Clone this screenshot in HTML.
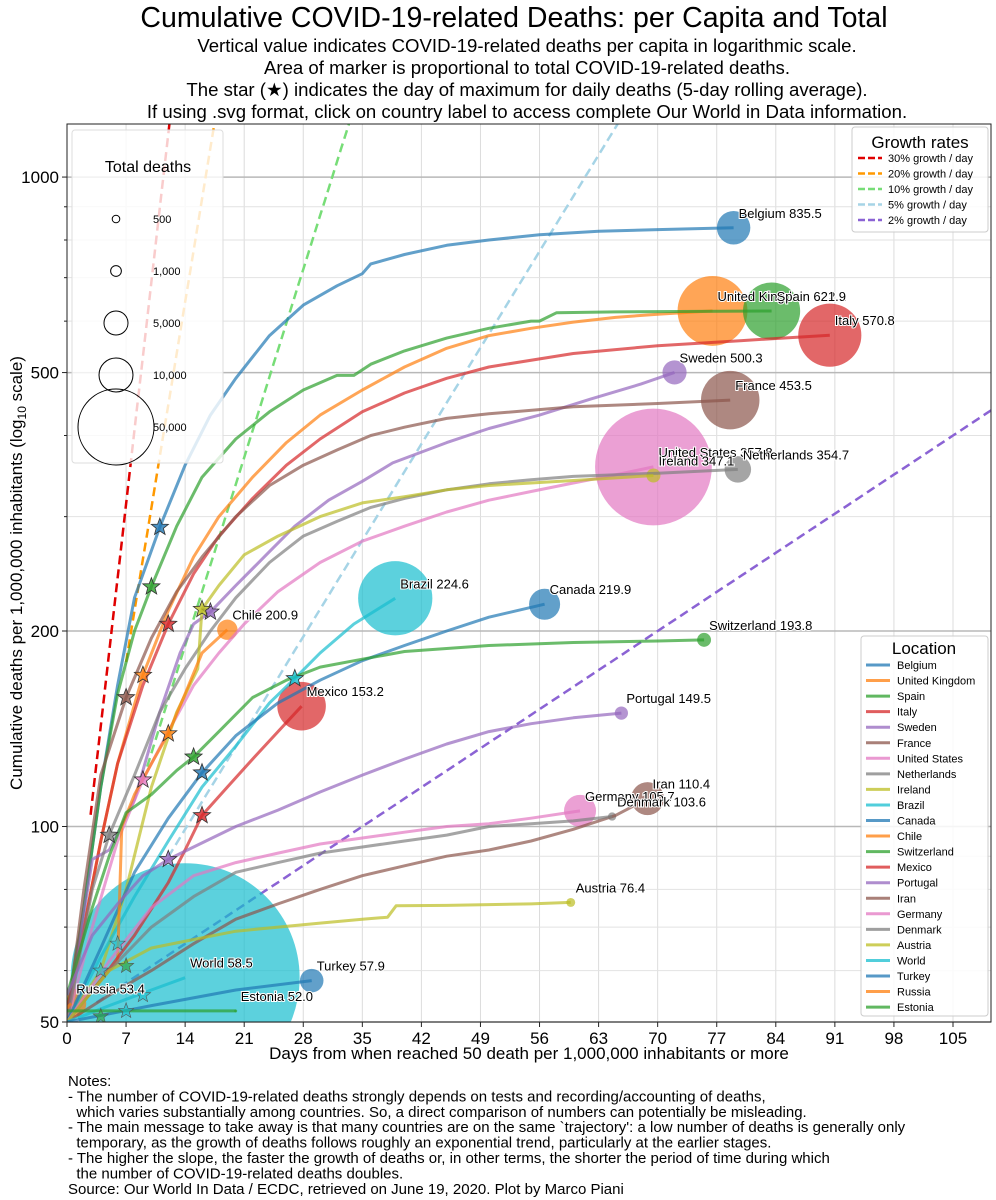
<!DOCTYPE html>
<html><head><meta charset="utf-8"><style>
body{margin:0;background:#fff;}
svg{display:block;font-family:"Liberation Sans","DejaVu Sans",sans-serif;}
</style></head><body>
<svg id="chart" width="996" height="1200" viewBox="0 0 996 1200" xmlns="http://www.w3.org/2000/svg">
<defs><clipPath id="clip"><rect x="67" y="124" width="924" height="898"/></clipPath></defs>
<text x="514" y="27" font-size="28.5" text-anchor="middle">Cumulative COVID-19-related Deaths: per Capita and Total</text>
<g font-size="18.6" text-anchor="middle">
<text x="527" y="52">Vertical value indicates COVID-19-related deaths per capita in logarithmic scale.</text>
<text x="527" y="74">Area of marker is proportional to total COVID-19-related deaths.</text>
<text x="527" y="96">The star (★) indicates the day of maximum for daily deaths (5-day rolling average).</text>
<text x="527" y="118">If using .svg format, click on country label to access complete Our World in Data information.</text>
</g>
<g id="grid"></g>
<g id="growth" clip-path="url(#clip)"></g>
<g id="series" clip-path="url(#clip)"></g>
<g id="axes"></g>
<g id="legends"></g>
<text x="529" y="1059" font-size="17" text-anchor="middle">Days from when reached 50 death per 1,000,000 inhabitants or more</text>
<text transform="translate(22,573) rotate(-90)" font-size="17" text-anchor="middle">Cumulative deaths per 1,000,000 inhabitants (log<tspan font-size="12" dy="4">10</tspan><tspan dy="-4"> scale)</tspan></text>
<g font-size="15">
<text x="68" y="1086">Notes:</text>
<text x="68" y="1101.4">- The number of COVID-19-related deaths strongly depends on tests and recording/accounting of deaths,</text>
<text x="68" y="1116.8">&#160;&#160;which varies substantially among countries. So, a direct comparison of numbers can potentially be misleading.</text>
<text x="68" y="1132.2">- The main message to take away is that many countries are on the same `trajectory': a low number of deaths is generally only</text>
<text x="68" y="1147.6">&#160;&#160;temporary, as the growth of deaths follows roughly an exponential trend, particularly at the earlier stages.</text>
<text x="68" y="1163">- The higher the slope, the faster the growth of deaths or, in other terms, the shorter the period of time during which</text>
<text x="68" y="1178.4">&#160;&#160;the number of COVID-19-related deaths doubles.</text>
<text x="68" y="1193.8">Source: Our World In Data / ECDC, retrieved on June 19, 2020. Plot by Marco Piani</text>
</g>
</svg>
<script>
const NS="http://www.w3.org/2000/svg";
const xTicks=[0,7,14,21,28,35,42,49,56,63,70,77,84,91,98,105];
const yMajor=[50,100,200,500,1000];
const yMinor=[60,70,80,90,300,400,600,700,800,900];
const growthRates=[0.30,0.20,0.10,0.05,0.02];
const growthLabels=["30% growth / day","20% growth / day","10% growth / day","5% growth / day","2% growth / day"];
const growthStart=[2.8,7,9.5,12,3.5];
const seriesNames=["Belgium","United Kingdom","Spain","Italy","Sweden","France","United States","Netherlands","Ireland","Brazil","Canada","Chile","Switzerland","Mexico","Portugal","Iran","Germany","Denmark","Austria","World","Turkey","Russia","Estonia"];
const seriesDays=[
[0,2,4,6,8,11,14,17,20,24,28,32,35,36,40,45,50,56,63,70,79],
[0,2,4,6,9,12,15,18,22,26,30,35,40,45,50,55,60,65,70,76.5],
[0,2,4,6,8,10,13,16,20,24,28,32,34,36,40,45,50,55,56,58,65,75,83.5],
[0,2,4,6,9,12,15,18,22,26,30,35,40,45,50,60,70,80,90.4],
[0,3,5,8,11,13.4,15,17,20,24,27,31,35,38.6,45,50,56,62,68,72],
[0,2,4,7,10,13,16,20,24,28,32,36,40,45,50,60,70,78.6],
[0,3,6,9,12,15,18,21,25,30,35,40,45,50,55,60,65,69.5],
[0,3,5,8,11,14,17,20,24,28,32,36,40,45,50,55,60,70,79.5],
[0,4,7,10,13,15.5,16,18,21,25,30,35,40,45,50,55,60,69.5],
[0,4,8,12,16,20,24,27,30,34,38.9],
[0,4,8,12,16,20,25,30,35,40,45,50,56.6],
[0,4,6,6.5,8,10,12,14,16,19],
[0,3,5,7,10,13,15,18,22,26,30,35,40,50,60,70,75.5],
[0,4,8,12,14,16,19,22,25,27.8],
[0,3,6,9,12,15,20,25,30,35,40,45,50,55,60,65.7],
[0,5,10,15,20,25,30,35,40,45,50,55,60,65,68.8],
[0,5,10,15,20,25,30,35,40,45,50,55,60.8],
[0,5,10,15,20,25,30,35,40,45,50,55,60,64.6],
[0,5,10,15,20,25,30,35,38,39,45,50,55,59.7],
[0,5,10,14],
[0,10,20,29],
[0,0.5],
[0,20]];
const seriesVals=[
[50,75,115,165,225,289,360,430,490,570,635,680,710,735,760,785,800,815,825,830,835.5],
[50,70,95,125,171,215,260,300,345,390,430,470,510,545,570,585,598,608,615,622.2],
[52,75,115,160,200,234,290,345,395,435,470,495,495,515,540,565,585,600,600,618,620,621,621.9],
[52,70,95,125,165,205,245,280,320,360,395,435,465,490,510,535,550,560,570.8],
[50,89,92,110,150,185,205,214,235,265,290,318,340,363,390,410,430,455,480,500.3],
[50,80,120,158,195,230,260,300,335,360,380,400,412,425,432,443,448,453.5],
[50,70,95,118,140,165,185,205,230,255,275,290,305,318,328,338,348,357.8],
[50,80,97,120,150,175,200,225,255,280,295,310,320,330,337,342,346,350,354.7],
[50,60,80,115,150,175,216,235,262,280,300,315,322,330,335,338,341,347.1],
[50,63,78,95,115,133,155,169,185,205,224.6],
[50,65,85,103,121,138,155,168,180,190,200,210,219.9],
[50,58,62,100,112,125,139,160,185,200.9],
[55,75,90,105,112,122,128,140,158,168,176,181,186,190,192,193,193.8],
[50,58,68,82,92,104,115,127,140,153.2],
[55,68,76,84,89,93,100,106,113,120,127,134,140,144,147,149.5],
[50,55,60,66,72,76,80,84,87,90,92,95,99,104,110.4],
[50,62,75,84,88,91,94,96,98,100,101,103,105.7],
[50,60,70,78,85,88,91,93,95,97,100,101,102,103.6],
[50,60,65,67,69,70,71,72,72.5,75.5,75.6,75.8,76,76.4],
[50,53,56,58.5],
[50,53,56,57.9],
[52.5,53.4],
[52,52.0]];
const totalDeaths=[9700,42300,28300,34500,5050,29600,118000,6100,1710,47700,8350,3600,1680,20400,1520,9400,8900,600,690,454000,4800,7800,69];
const starDays=[11,9,10,12,17,7,9,5,16,27,16,12,15,16,12,null,null,null,null,null,null,null,null];
const extraStarDays=[4,7,6,9,7,4];
const extraStarVals=[60,61,66,55,52,51];
const extraStarColors=["#17becf","#2ca02c","#17becf","#17becf","#17becf","#2ca02c"];
const legendSizes=[500,1000,5000,10000,50000];
const legendSizeLabels=["500","1,000","5,000","10,000","50,000"];
const palette=["#1f77b4","#ff7f0e","#2ca02c","#d62728","#9467bd","#8c564b","#e377c2","#7f7f7f","#bcbd22","#17becf"];
const growthColors=["#e00000","#ff9900","#77dd77","#a6d4e6","#8b63d4"];

const X0=67,X1=991,Y0=124,Y1=1022;
function xs(d){return X0+d*8.438;}
function ys(v){return Y1-195.5*Math.log2(v/50);}
function rs(n){return 38*Math.sqrt(n/50000);}
function el(tag,attrs,parent){const e=document.createElementNS(NS,tag);for(const k in attrs)e.setAttribute(k,attrs[k]);parent.appendChild(e);return e;}
function interp(days,vals,d){for(let i=1;i<days.length;i++){if(d<=days[i]){const t=(d-days[i-1])/(days[i]-days[i-1]);return vals[i-1]*Math.pow(vals[i]/vals[i-1],t);}}return vals[vals.length-1];}
function starPath(cx,cy,r){let p="";for(let i=0;i<10;i++){const a=-Math.PI/2+i*Math.PI/5;const rr=i%2?r*0.42:r;p+=(i?"L":"M")+(cx+rr*Math.cos(a)).toFixed(1)+","+(cy+rr*Math.sin(a)).toFixed(1);}return p+"Z";}

const grid=document.getElementById("grid");
xTicks.forEach(t=>{const l=el("line",{x1:xs(t),x2:xs(t),y1:Y0,y2:Y1,stroke:"#dcdcdc","stroke-width":1},grid);

});
yMinor.forEach(t=>{const l=el("line",{x1:X0,x2:X1,y1:ys(t),y2:ys(t),stroke:"#e2e2e2","stroke-width":1},grid);

});
yMajor.forEach(t=>{const l=el("line",{x1:X0,x2:X1,y1:ys(t),y2:ys(t),stroke:"#b8b8b8","stroke-width":1.5},grid);

});

const gg=document.getElementById("growth");
growthRates.forEach((r,i)=>{let pts=[];for(let d=growthStart[i];d<=112;d+=0.5){const v=50*Math.pow(1+r,d);if(v>1500){pts.push(xs(d).toFixed(1)+","+ys(v).toFixed(1));break;}pts.push(xs(d).toFixed(1)+","+ys(v).toFixed(1));}
const p=el("polyline",{points:pts.join(" "),fill:"none",stroke:growthColors[i],"stroke-width":2.5,"stroke-dasharray":"9,5"},gg);

});

const sg=document.getElementById("series");
const bubbles=el("g",{},sg);
const lines=el("g",{},sg);
const stars=el("g",{},sg);
const labels=el("g",{},document.getElementById("axes"));
seriesNames.forEach((n,i)=>{const c=palette[i%10];const days=seriesDays[i],vals=seriesVals[i];
const slug=n.toLowerCase().replace(/ /g,'-');
const pts=days.map((d,j)=>xs(d).toFixed(1)+","+ys(vals[j]).toFixed(1)).join(" ");
const pl=el("polyline",{points:pts,fill:"none",stroke:c,"stroke-width":3,"stroke-opacity":0.7,"stroke-linejoin":"round"},lines);


const ld=days[days.length-1],lv=vals[vals.length-1];
const b=el("circle",{cx:xs(ld),cy:ys(lv),r:rs(totalDeaths[i]),fill:c,"fill-opacity":0.7},bubbles);


if(starDays[i]!==null){const sv=interp(days,vals,starDays[i]);
const s=el("path",{d:starPath(xs(starDays[i]),ys(sv),9),fill:c,"fill-opacity":0.8,stroke:"#333","stroke-width":0.8},stars);

}
const t=el("text",{x:xs(ld)+5,y:ys(lv)-10,"font-size":13,fill:"#000",stroke:"#fff","stroke-width":2,"paint-order":"stroke"},labels);
t.textContent=n+" "+lv.toFixed(1);

});
extraStarDays.forEach((d,i)=>{const s=el("path",{d:starPath(xs(d),ys(extraStarVals[i]),8),fill:extraStarColors[i],"fill-opacity":0.6,stroke:"#555","stroke-width":0.6},stars);

});

const ax=document.getElementById("axes");
const fr=el("rect",{x:X0,y:Y0,width:X1-X0,height:Y1-Y0,fill:"none",stroke:"#222","stroke-width":1},ax);


xTicks.forEach(t=>{el("line",{x1:xs(t),x2:xs(t),y1:Y1,y2:Y1+5,stroke:"#222"},ax);
const tx=el("text",{x:xs(t),y:Y1+22,"font-size":17,"text-anchor":"middle"},ax);tx.textContent=t;

});
yMajor.forEach(t=>{el("line",{x1:X0-5,x2:X0,y1:ys(t),y2:ys(t),stroke:"#222"},ax);
const tx=el("text",{x:X0-8,y:ys(t)+6,"font-size":17,"text-anchor":"end"},ax);tx.textContent=t;

});
yMinor.forEach(t=>{el("line",{x1:X0-3,x2:X0,y1:ys(t),y2:ys(t),stroke:"#222"},ax);});

const lg=document.getElementById("legends");
const tdl=el("g",{},lg);


el("rect",{x:72,y:130,width:151,height:333,rx:3,fill:"#fff","fill-opacity":0.8,stroke:"#ddd"},tdl);
const tt=el("text",{x:148,y:172,"font-size":16,"text-anchor":"middle"},tdl);tt.textContent="Total deaths";
legendSizes.forEach((n,i)=>{const cy=219+i*52;el("circle",{cx:116,cy:cy,r:rs(n),fill:"none",stroke:"#000","stroke-width":1},tdl);
const t=el("text",{x:153,y:cy+4,"font-size":11},tdl);t.textContent=legendSizeLabels[i];});
const grl=el("g",{},lg);


el("rect",{x:852,y:127,width:136,height:105,rx:3,fill:"#fff","fill-opacity":0.85,stroke:"#ccc"},grl);
const gt=el("text",{x:920,y:148,"font-size":17,"text-anchor":"middle"},grl);gt.textContent="Growth rates";
growthLabels.forEach((g,i)=>{const y=158+i*15.5;el("line",{x1:858,x2:882,y1:y,y2:y,stroke:growthColors[i],"stroke-width":2.5,"stroke-dasharray":"7,3"},grl);
const t=el("text",{x:888,y:y+4,"font-size":11},grl);t.textContent=g;});
const loc=el("g",{},lg);


el("rect",{x:861,y:636,width:127,height:380,rx:3,fill:"#fff","fill-opacity":0.85,stroke:"#ccc"},loc);
const lt=el("text",{x:924,y:654,"font-size":17,"text-anchor":"middle"},loc);lt.textContent="Location";
seriesNames.forEach((n,i)=>{const y=665+i*15.55;el("line",{x1:866,x2:890,y1:y,y2:y,stroke:palette[i%10],"stroke-width":3,"stroke-opacity":0.75},loc);
const t=el("text",{x:897,y:y+4,"font-size":11},loc);t.textContent=n;

});
</script>
</body></html>
